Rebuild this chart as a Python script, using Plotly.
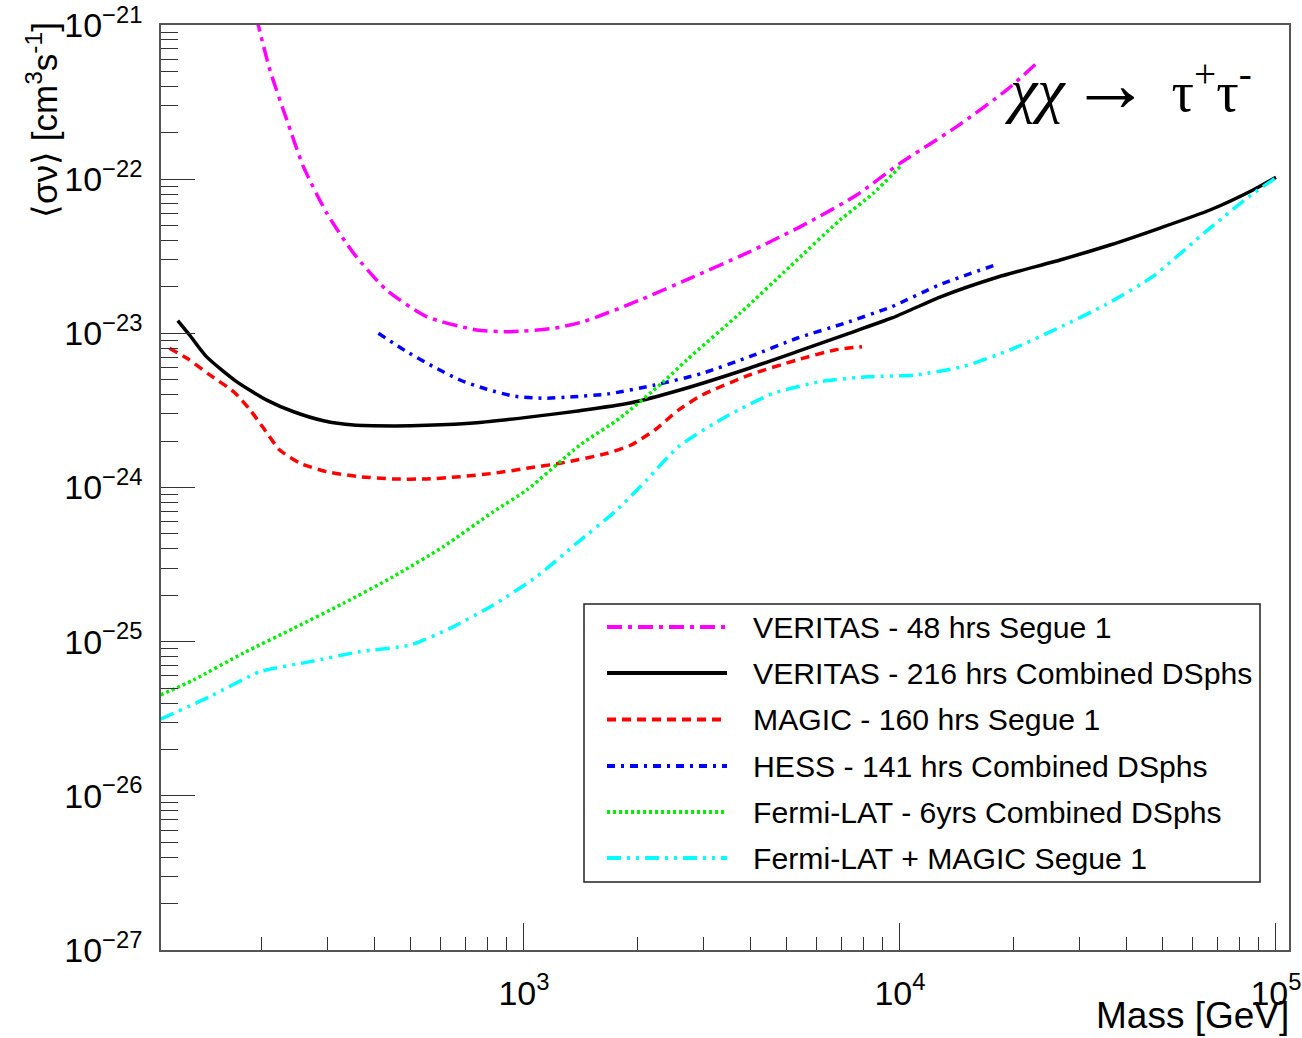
import plotly.graph_objects as go

# ---------------------------------------------------------------------------
# Upper limits on <sigma v> for chi chi -> tau+ tau-  (mass in GeV, cm^3 s^-1)
# ---------------------------------------------------------------------------
veritas_segue_mass = [194, 211, 234, 259, 299, 352, 431, 551, 749, 918, 1197, 1438,
                      2034, 2764, 3911, 5648, 7671, 10000, 14150, 19220, 23330]
veritas_segue_sv = [1.13e-21, 5.10e-22, 2.42e-22, 1.205e-22, 6.01e-23, 3.31e-23,
                    1.91e-23, 1.282e-23, 1.051e-23, 1.025e-23, 1.078e-23, 1.19e-23,
                    1.645e-23, 2.275e-23, 3.31e-23, 5.17e-23, 7.89e-23, 1.267e-22,
                    2.19e-22, 3.79e-22, 5.78e-22]

veritas_comb_mass = [120, 129, 143, 172, 207, 244, 293, 352, 449, 551, 749, 1017, 1409,
                     1914, 2599, 3991, 5322, 7097, 9522, 12775, 18225, 26650, 36180,
                     49140, 66750, 86860, 100000]
veritas_comb_sv = [1.21e-23, 9.75e-24, 7.06e-24, 4.86e-24, 3.69e-24, 3.10e-24, 2.71e-24,
                   2.54e-24, 2.51e-24, 2.53e-24, 2.63e-24, 2.85e-24, 3.15e-24, 3.53e-24,
                   4.29e-24, 5.96e-24, 7.6e-24, 9.75e-24, 1.258e-23, 1.72e-23, 2.32e-23,
                   2.99e-23, 3.74e-23, 4.82e-23, 6.31e-23, 8.51e-23, 1.03e-22]

magic_mass = [114, 127, 146, 169, 187, 203, 224, 254, 299, 366, 449, 551, 676, 829,
              1017, 1247, 1667, 1926, 2228, 2575, 2978, 3981, 5322, 6712, 7922]
magic_sv = [8.00e-24, 6.89e-24, 5.37e-24, 4.18e-24, 3.18e-24, 2.42e-24, 1.75e-24,
            1.436e-24, 1.266e-24, 1.175e-24, 1.136e-24, 1.136e-24, 1.175e-24, 1.236e-24,
            1.332e-24, 1.436e-24, 1.667e-24, 1.887e-24, 2.36e-24, 3.18e-24, 3.98e-24,
            5.37e-24, 6.72e-24, 7.80e-24, 8.19e-24]

hess_mass = [410, 488, 574, 676, 796, 937, 1126, 1353, 1667, 2228, 2978, 3981, 5322,
             7114, 9505, 12705, 18114]
hess_sv = [1.00e-23, 7.60e-24, 6.08e-24, 4.98e-24, 4.34e-24, 3.92e-24, 3.79e-24,
           3.88e-24, 4.04e-24, 4.62e-24, 5.50e-24, 7.06e-24, 9.29e-24, 1.162e-23,
           1.489e-23, 2.06e-23, 2.80e-23]

fermi_mass = [108, 132, 179, 244, 331, 449, 610, 829, 1017, 1409, 1800, 2328, 2709,
              3753, 5099, 6925, 8493, 10000]
fermi_sv = [4.51e-26, 5.64e-26, 8.41e-26, 1.221e-25, 1.774e-25, 2.64e-25, 4.13e-25,
            6.97e-25, 9.63e-25, 1.887e-24, 2.82e-24, 4.76e-24, 6.72e-24, 1.349e-23,
            2.71e-23, 5.43e-23, 8.10e-23, 1.205e-22]

fermi_magic_mass = [108, 146, 199, 270, 366, 498, 636, 829, 1081, 1381, 1764, 2120,
                    2575, 3443, 4604, 6153, 8222, 11000, 14690, 19610, 26260, 35100,
                    46940, 66750, 87020, 100000]
fermi_magic_sv = [3.14e-26, 4.40e-26, 6.39e-26, 7.42e-26, 8.61e-26, 9.51e-26, 1.221e-25,
                  1.729e-25, 2.64e-25, 4.35e-25, 7.14e-25, 1.119e-24, 1.839e-24,
                  2.88e-24, 4.08e-24, 4.86e-24, 5.23e-24, 5.37e-24, 6.08e-24, 7.80e-24,
                  1.078e-23, 1.527e-23, 2.33e-23, 4.82e-23, 8.10e-23, 1.02e-22]

series_labels = ["VERITAS - 48 hrs Segue 1",
                 "VERITAS - 216 hrs Combined DSphs",
                 "MAGIC - 160 hrs Segue 1",
                 "HESS - 141 hrs Combined DSphs",
                 "Fermi-LAT - 6yrs Combined DSphs",
                 "Fermi-LAT + MAGIC Segue 1"]

x_major = [1e3, 1e4, 1e5]
x_major_text = ["10<sup>3</sup>", "10<sup>4</sup>", "10<sup>5</sup>"]
y_major = [1e-27, 1e-26, 1e-25, 1e-24, 1e-23, 1e-22, 1e-21]
y_major_text = ["10<sup>\u221227</sup>", "10<sup>\u221226</sup>", "10<sup>\u221225</sup>",
                "10<sup>\u221224</sup>", "10<sup>\u221223</sup>", "10<sup>\u221222</sup>",
                "10<sup>\u221221</sup>"]

# ---------------------------------------------------------------------------
# styling
# ---------------------------------------------------------------------------
W, H = 1302, 1038
PL, PR, PT, PB = 161, 1289, 25, 950          # plot-area edges in px
FONT = "Liberation Sans, Arial, sans-serif"
SERIF = "Liberation Serif, Times New Roman, serif"
LW = 3.5

styles = [
    dict(color="#ff00ff", width=LW, dash="15px,6px,4px,6px"),
    dict(color="#000000", width=LW, dash="solid"),
    dict(color="#ff0000", width=LW, dash="9px,6px"),
    dict(color="#0000ff", width=LW, dash="8px,6px,3px,6px"),
    dict(color="#00ee00", width=LW, dash="3px,3px"),
    dict(color="#00ffff", width=LW, dash="14px,6px,3px,6px,3px,6px"),
]
datasets = [
    (veritas_segue_mass, veritas_segue_sv),
    (veritas_comb_mass, veritas_comb_sv),
    (magic_mass, magic_sv),
    (hess_mass, hess_sv),
    (fermi_mass, fermi_sv),
    (fermi_magic_mass, fermi_magic_sv),
]


def fx(p):
    return (p - PL) / (PR - PL)


def fy(p):
    return (PB - p) / (PB - PT)


fig = go.Figure()
for (m, sv), st, name in zip(datasets, styles, series_labels):
    fig.add_trace(go.Scatter(
        x=m, y=sv, mode="lines", name=name, showlegend=False,
        line=dict(color=st["color"], width=st["width"], dash=st["dash"],
                  shape="spline", smoothing=0.6),
    ))

x_minor = [k * 10 ** n for n in (2, 3, 4) for k in range(2, 10)]
y_minor = [k * 10.0 ** n for n in range(-27, -21) for k in range(2, 10)]

axis_common = dict(
    type="log", showgrid=False, zeroline=False, showline=True, mirror=True,
    automargin=False,
    linecolor="#555555", linewidth=1.5, ticks="inside", tickcolor="#333333",
    tickwidth=1.3, tickmode="array",
    tickfont=dict(family=FONT, size=34, color="#000000"),
)

fig.update_layout(
    width=W, height=H,
    margin=dict(l=PL, r=W - PR, t=PT, b=H - PB, pad=0, autoexpand=False),
    paper_bgcolor="white", plot_bgcolor="white",
    xaxis=dict(axis_common, range=[2.0346, 5.0346], tickvals=x_major,
               ticktext=x_major_text, ticklen=27, ticklabelstandoff=12,
               minor=dict(tickmode="array", tickvals=x_minor, ticks="inside",
                          ticklen=13, tickcolor="#333333", tickwidth=1.3)),
    yaxis=dict(axis_common, range=[-27, -21], tickvals=y_major,
               ticktext=y_major_text, ticklen=34, ticklabelstandoff=10,
               minor=dict(tickmode="array", tickvals=y_minor, ticks="inside",
                          ticklen=17, tickcolor="#333333", tickwidth=1.3)),
    showlegend=False,
)

# axis titles
fig.add_annotation(xref="paper", yref="paper", x=fx(1291), y=fy(1015),
                   xanchor="right", yanchor="middle", showarrow=False,
                   text="Mass [GeV]", font=dict(family=FONT, size=37, color="black"))
fig.add_annotation(xref="paper", yref="paper", x=fx(42), y=fy(20),
                   xanchor="center", yanchor="top", showarrow=False, textangle=-90,
                   text="\u27e8\u03c3\u03bd\u27e9 [cm<sup>3</sup>s<sup>-1</sup>]",
                   font=dict(family=FONT, size=35, color="black"))

# process label
GAP_L = "<span style='font-size:24px'>\u00a0</span>"
GAP_R = "<span style='font-size:84px'>\u00a0</span>"
fig.add_annotation(xref="paper", yref="paper", x=fx(1254), y=fy(82),
                   xanchor="right", yanchor="middle", showarrow=False,
                   text=("<span style='font-size:62px'><i>\u03c7\u03c7</i></span>" + GAP_L +
                         "<span style='font-size:80px'>\u2192</span>" + GAP_R +
                         "\u03c4<sup>+</sup>\u03c4<sup>-</sup>"),
                   font=dict(family=SERIF, size=56, color="black"))

# legend box
fig.add_shape(type="rect", xref="paper", yref="paper",
              x0=fx(584), x1=fx(1260), y0=fy(882), y1=fy(604),
              line=dict(color="#222222", width=1.5), fillcolor="white", layer="above")
row_y = [627, 673, 719.5, 766, 812, 858]
for ry, st, name in zip(row_y, styles, series_labels):
    fig.add_shape(type="line", xref="paper", yref="paper",
                  x0=fx(607), x1=fx(727), y0=fy(ry), y1=fy(ry),
                  line=dict(color=st["color"], width=st["width"] + 0.5, dash=st["dash"]),
                  layer="above")
    fig.add_annotation(xref="paper", yref="paper", x=fx(751), y=fy(ry),
                       xanchor="left", yanchor="middle", showarrow=False,
                       text=name, font=dict(family=FONT, size=30.2, color="black"))

fig.write_html("out.html")
